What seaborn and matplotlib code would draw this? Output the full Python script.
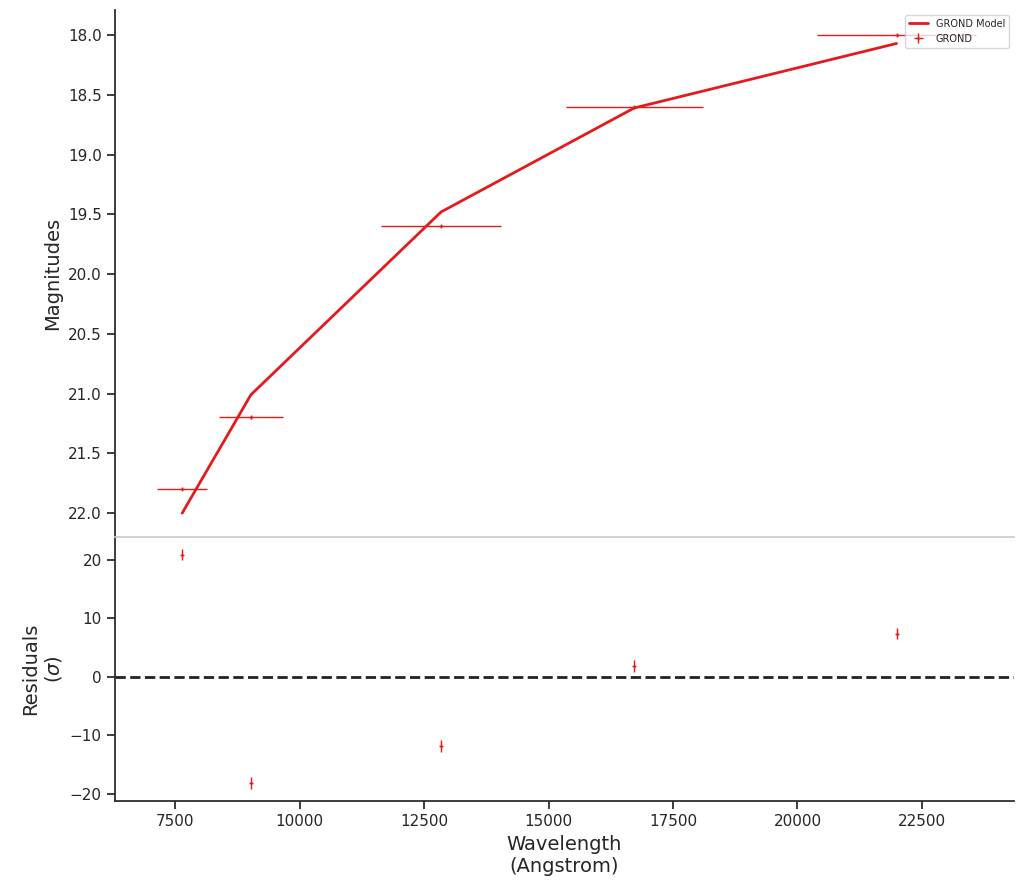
import numpy as np
import matplotlib
matplotlib.use('Agg')
import matplotlib.pyplot as plt
import seaborn as sns

# photometry
wave = [7640, 9020, 12840, 16720, 21990]
wave_err = [500, 640, 1200, 1375, 1590]
mag = [21.80, 21.20, 19.60, 18.60, 18.00]
mag_err = [0.01, 0.01, 0.01, 0.01, 0.01]
model_mag = [22.00, 21.01, 19.48, 18.61, 18.07]
resid = [20.9, -18.1, -11.8, 1.9, 7.4]
resid_err = [1.0, 1.0, 1.0, 1.0, 1.0]

sns.set_theme(style='ticks', context='notebook')
red = '#e41a1c'

fig = plt.figure(figsize=(10.24, 8.94), dpi=100)
ax1 = fig.add_axes([115/1024, 1-537/894, 899/1024, 527/894])
ax2 = fig.add_axes([115/1024, 1-801/894, 899/1024, 264/894], sharex=ax1)

ax1.plot(wave, model_mag, color=red, lw=2, label='GROND Model')
ax1.errorbar(wave, mag, xerr=wave_err, yerr=mag_err, fmt='+', color=red,
             ms=3, elinewidth=1, label='GROND')
ax1.set_ylim(22.2, 17.79)
ax1.set_ylabel('Magnitudes', fontsize=14)
ax1.tick_params(labelbottom=False, bottom=False)
ax1.spines['top'].set_visible(False)
ax1.spines['right'].set_visible(False)
ax1.spines['bottom'].set_visible(False)
ax1.legend(loc='upper right', fontsize=7, frameon=True)

ax2.errorbar(wave, resid, yerr=resid_err, fmt='+', color=red, ms=3, elinewidth=1)
ax2.axhline(0, color='#222222', ls='--', lw=2)
ax2.set_ylim(-21.2, 23.9)
ax2.set_xlim(6290, 24350)
ax2.set_yticks([-20, -10, 0, 10, 20])
ax2.set_ylabel('Residuals\n($\\sigma$)', fontsize=14)
ax2.set_xlabel('Wavelength\n(Angstrom)', fontsize=14)
ax2.spines['right'].set_visible(False)
ax2.spines['top'].set_color('#cccccc')

fig.savefig('out.png', dpi=100)
